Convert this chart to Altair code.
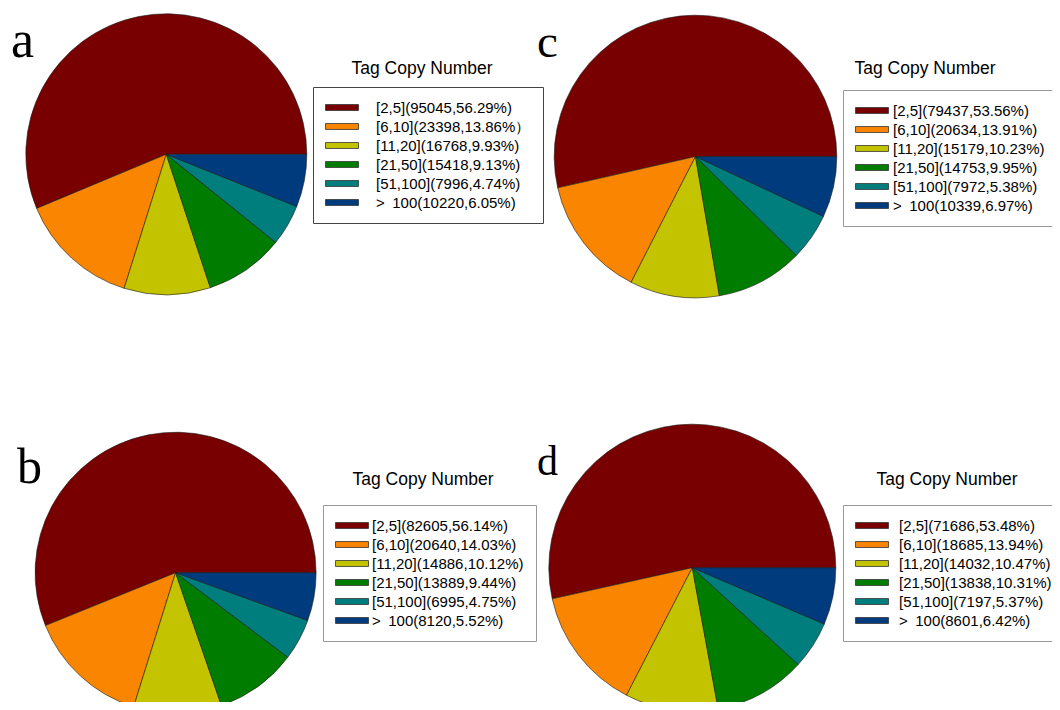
import math
import altair as alt
import pandas as pd

# ---------------- data ----------------
categories = ["[2,5]", "[6,10]", "[11,20]", "[21,50]", "[51,100]", "> 100"]
colors = ["#780000", "#F98500", "#C3C300", "#007D00", "#007D7D", "#003C7D"]

counts_a = [95045, 23398, 16768, 15418, 7996, 10220]
labels_a = ["[2,5](95045,56.29%)", "[6,10](23398,13.86%）", "[11,20](16768,9.93%)",
            "[21,50](15418,9.13%)", "[51,100](7996,4.74%)", ">\u2002100(10220,6.05%)"]

counts_b = [82605, 20640, 14886, 13889, 6995, 8120]
labels_b = ["[2,5](82605,56.14%)", "[6,10](20640,14.03%)", "[11,20](14886,10.12%)",
            "[21,50](13889,9.44%)", "[51,100](6995,4.75%)", ">\u2002100(8120,5.52%)"]

counts_c = [79437, 20634, 15179, 14753, 7972, 10339]
labels_c = ["[2,5](79437,53.56%)", "[6,10](20634,13.91%)", "[11,20](15179,10.23%)",
            "[21,50](14753,9.95%)", "[51,100](7972,5.38%)", ">\u2002100(10339,6.97%)"]

counts_d = [71686, 18685, 14032, 13838, 7197, 8601]
labels_d = ["[2,5](71686,53.48%)", "[6,10](18685,13.94%)", "[11,20](14032,10.47%)",
            "[21,50](13838,10.31%)", "[51,100](7197,5.37%)", ">\u2002100(8601,6.42%)"]

legend_title = "Tag Copy Number"

SWATCH = "M-1,-0.18L1,-0.18L1,0.18L-1,0.18Z"


def make_df(counts, labels):
    n = len(counts)
    return pd.DataFrame({
        "category": categories,
        "count": counts,
        "label": labels,
        "ord": [n - 1 - i for i in range(n)],
    })


def pie(counts, labels, cx, cy, r, lx, ly, loff, lstroke):
    df = make_df(counts, labels)
    return alt.Chart(df).mark_arc(radius=r, stroke="#1a1a1a", strokeWidth=0.6).encode(
        x=alt.value(cx),
        y=alt.value(cy),
        theta=alt.Theta("count:Q", stack="normalize",
                        scale=alt.Scale(range=[math.pi / 2, math.pi / 2 + 2 * math.pi])),
        order=alt.Order("ord:Q"),
        color=alt.Color(
            "label:N",
            sort=labels,
            scale=alt.Scale(domain=labels, range=colors),
            legend=alt.Legend(
                orient="none", legendX=lx, legendY=ly, title=None,
                padding=12, strokeColor=lstroke, fillColor="white",
                symbolType=SWATCH, symbolSize=1089,
                symbolStrokeColor="#333333", symbolStrokeWidth=0.8, symbolOpacity=1,
                labelFont="Liberation Sans", labelFontSize=15, labelColor="black",
                labelOffset=loff, labelLimit=400, clipHeight=17, rowPadding=2,
            ),
        ),
    )


def text(t, x, y, size, font, align="left", baseline="alphabetic"):
    return alt.Chart(pd.DataFrame({"k": [0]})).mark_text(
        font=font, fontSize=size, color="black", align=align, baseline=baseline
    ).encode(x=alt.value(x), y=alt.value(y), text=alt.value(t))


layers = [
    pie(counts_a, labels_a, 158.3, 146.3, 140.5, 305, 79, 17, "#444444"),
    pie(counts_c, labels_c, 687.5, 148.5, 141.3, 835, 82, 4, "#999999"),
    pie(counts_b, labels_b, 167.6, 564.7, 140.5, 315, 497, 3, "#999999"),
    pie(counts_d, labels_d, 684.3, 559.7, 143.5, 835, 497, 10, "#999999"),
    text(legend_title, 414, 61, 17.5, "Liberation Sans", "center", "middle"),
    text(legend_title, 917, 61, 17.5, "Liberation Sans", "center", "middle"),
    text(legend_title, 415, 472, 17.5, "Liberation Sans", "center", "middle"),
    text(legend_title, 939, 472, 17.5, "Liberation Sans", "center", "middle"),
    text("a", 3, 49, 52, "Liberation Serif"),
    text("c", 529, 49, 47, "Liberation Serif"),
    text("b", 9, 475, 50, "Liberation Serif"),
    text("d", 529, 467, 42, "Liberation Serif"),
]

chart = alt.layer(*layers).resolve_scale(color="independent").resolve_legend(
    color="independent"
).properties(
    width=1044, height=694, autosize=alt.AutoSizeParams(type="none"), padding=0
).configure_view(stroke=None)

chart.save("out.html", embed_options={"renderer": "svg", "actions": False})
